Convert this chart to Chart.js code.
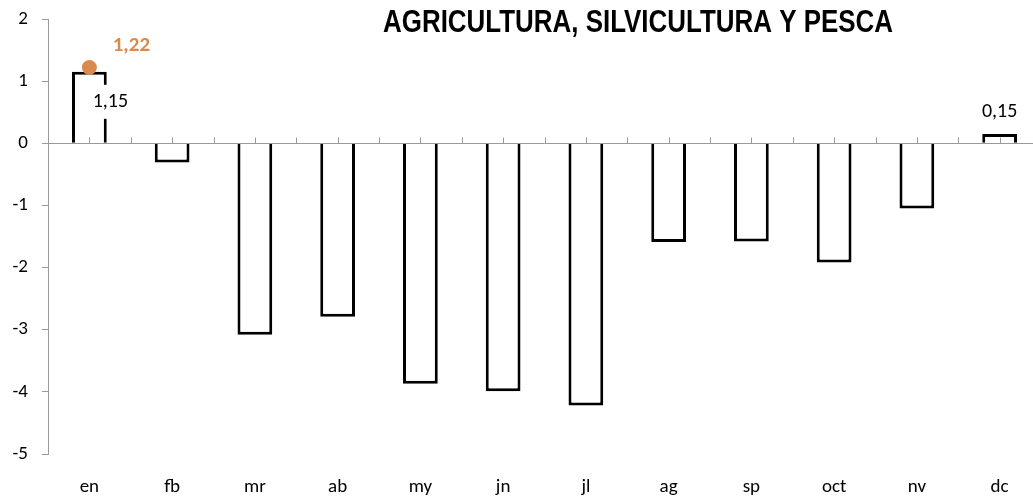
<!DOCTYPE html>
<html>
<head>
<meta charset="utf-8">
<script src="https://cdn.jsdelivr.net/npm/chart.js@4/dist/chart.umd.min.js"></script>
<style>
  html, body { margin: 0; padding: 0; background: #fff; overflow: hidden; }
  #wrap { position: relative; width: 1050px; height: 498px; }
</style>
</head>
<body>
<div id="wrap"><canvas id="chart"></canvas></div>
<script>
// Datos
const categories = ['en','fb','mr','ab','my','jn','jl','ag','sp','oct','nv','dc'];
const barValues = [1.15, -0.31, -3.08, -2.79, -3.87, -3.99, -4.22, -1.59, -1.58, -1.92, -1.05, 0.15];
const pointValues = [1.22, null, null, null, null, null, null, null, null, null, null, null];
const labeledBars = [0, 11];
const yTicks = [2, 1, 0, -1, -2, -3, -4, -5];
const title = 'AGRICULTURA, SILVICULTURA Y PESCA';

const FONT = 'Carlito, Lato, sans-serif';
const ORANGE = '#d98a4f';
const GREY = '#9a9a9a';

const fmt = v => v.toFixed(2).replace('.', ',');

// Linea del cero con marcas
const zeroLine = {
  id: 'zeroLine',
  afterDatasetsDraw(chart) {
    const {ctx, chartArea, scales} = chart;
    const y0 = Math.round(scales.y.getPixelForValue(0)) + 0.5;
    const half = (scales.x.getPixelForValue(1) - scales.x.getPixelForValue(0)) / 2;
    ctx.save();
    ctx.strokeStyle = GREY;
    ctx.lineWidth = 1;
    ctx.beginPath();
    ctx.moveTo(chartArea.left, y0);
    ctx.lineTo(chartArea.right, y0);
    for (let i = 1; i <= categories.length * 2; i++) {
      const x = Math.round(chartArea.left + i * half) + 0.5;
      ctx.moveTo(x, y0);
      ctx.lineTo(x, y0 - 6);
    }
    ctx.stroke();
    ctx.restore();
  }
};

// Etiquetas de datos + titulo
const dataLabels = {
  id: 'dataLabels',
  afterDatasetsDraw(chart) {
    const ctx = chart.ctx;
    ctx.save();
    ctx.textAlign = 'center';
    ctx.textBaseline = 'middle';
    const bars = chart.getDatasetMeta(0).data;
    ctx.font = '20px ' + FONT;
    labeledBars.forEach(i => {
      const el = bars[i];
      const txt = fmt(barValues[i]);
      let x = el.x, y;
      if (i === 0) { x = el.x + 21; y = el.y + 30; }
      else { y = el.y - 22; }
      const w = ctx.measureText(txt).width;
      ctx.fillStyle = '#fff';
      ctx.fillRect(x - w / 2 - 2, y - 17, w + 4, 34);
      ctx.fillStyle = '#000';
      ctx.fillText(txt, x, y);
    });
    const pts = chart.getDatasetMeta(1).data;
    ctx.font = 'bold 21px ' + FONT;
    ctx.fillStyle = ORANGE;
    pointValues.forEach((v, i) => {
      if (v == null) return;
      ctx.fillText(fmt(v), pts[i].x + 42, pts[i].y - 22);
    });
    // Titulo (fuente estrecha simulada)
    ctx.font = 'bold 32px "Liberation Sans", Arial, sans-serif';
    ctx.fillStyle = '#000';
    ctx.textAlign = 'left';
    ctx.textBaseline = 'alphabetic';
    const sx = 510 / ctx.measureText(title).width;
    ctx.translate(383, 32);
    ctx.scale(sx, 1);
    ctx.fillText(title, 0, 0);
    ctx.restore();
  }
};

new Chart(document.getElementById('chart'), {
  data: {
    labels: categories,
    datasets: [
      {
        type: 'bar',
        data: barValues,
        backgroundColor: '#fff',
        borderColor: '#000',
        borderWidth: 3,
        categoryPercentage: 1,
        barPercentage: 0.42,
        order: 2
      },
      {
        type: 'line',
        data: pointValues,
        showLine: false,
        pointRadius: 7.5,
        pointBackgroundColor: ORANGE,
        pointBorderColor: ORANGE,
        pointBorderWidth: 0,
        order: 1
      }
    ]
  },
  options: {
    responsive: true,
    maintainAspectRatio: false,
    animation: false,
    layout: { padding: { left: 0, right: 9, top: 19, bottom: 0 } },
    plugins: { legend: { display: false }, tooltip: { enabled: false } },
    scales: {
      x: {
        grid: { display: false, drawTicks: false },
        border: { display: false },
        ticks: { color: '#000', font: { family: FONT, size: 19 }, padding: 22, maxRotation: 0 },
        afterFit: s => { s.height = 44; }
      },
      y: {
        min: -5, max: 2,
        grid: { drawOnChartArea: false, drawTicks: true, tickLength: 6, color: GREY },
        border: { color: GREY },
        afterBuildTicks: s => { s.ticks = yTicks.map(v => ({ value: v })); },
        ticks: { color: '#000', font: { family: FONT, size: 19 }, padding: 14 },
        afterFit: s => { s.width = 48; s.paddingTop = 0; s.paddingBottom = 0; }
      }
    }
  },
  plugins: [zeroLine, dataLabels]
});
</script>
</body>
</html>
